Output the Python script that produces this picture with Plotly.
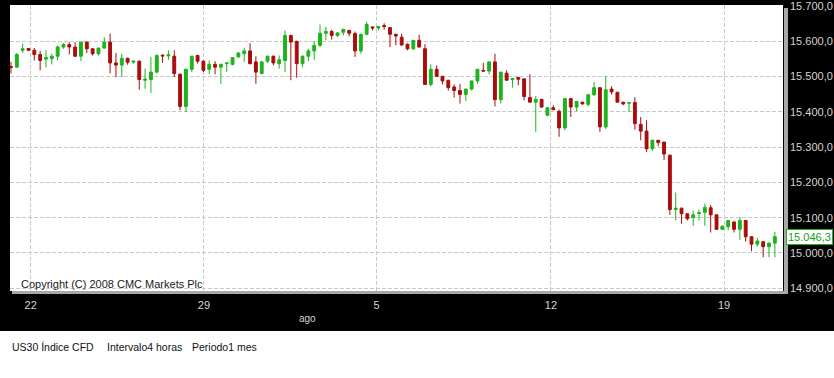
import plotly.graph_objects as go

# ---- data (4-hour bars, US30) ----
opens = [15528, 15526, 15574, 15579, 15574, 15562, 15549, 15550, 15557, 15583,
         15590, 15583, 15557, 15597, 15578, 15564, 15580, 15597, 15538, 15532,
         15551, 15540, 15543, 15489, 15491, 15512, 15560, 15558, 15557, 15506,
         15415, 15520, 15559, 15543, 15520, 15534, 15526, 15536, 15534, 15555,
         15564, 15572, 15541, 15508, 15543, 15557, 15536, 15545, 15616, 15599,
         15536, 15557, 15572, 15588, 15622, 15627, 15616, 15625, 15630, 15621,
         15572, 15619, 15640, 15637, 15644, 15638, 15619, 15611, 15591, 15578,
         15602, 15578, 15477, 15520, 15500, 15489, 15470, 15460, 15449, 15464,
         15487, 15517, 15515, 15541, 15434, 15509, 15491, 15497, 15493, 15440,
         15427, 15435, 15390, 15411, 15401, 15354, 15437, 15413, 15427, 15421,
         15448, 15468, 15357, 15464, 15455, 15427, 15424, 15426, 15364, 15345,
         15295, 15319, 15314, 15277, 15123, 15127, 15111, 15100, 15112, 15115,
         15128, 15108, 15067, 15074, 15088, 15067, 15092, 15046, 15025, 15032,
         15018, 15028]
highs = [15541, 15566, 15592, 15580, 15580, 15572, 15574, 15564, 15588, 15594,
         15597, 15597, 15598, 15599, 15580, 15581, 15611, 15621, 15566, 15564,
         15553, 15545, 15545, 15522, 15555, 15562, 15562, 15574, 15574, 15508,
         15522, 15558, 15561, 15545, 15545, 15543, 15536, 15540, 15555, 15569,
         15581, 15594, 15557, 15543, 15559, 15559, 15559, 15630, 15618, 15601,
         15559, 15578, 15600, 15647, 15640, 15632, 15625, 15635, 15632, 15627,
         15621, 15654, 15641, 15643, 15650, 15640, 15621, 15621, 15593, 15603,
         15618, 15591, 15534, 15531, 15502, 15490, 15477, 15479, 15465, 15488,
         15521, 15538, 15542, 15564, 15513, 15517, 15495, 15498, 15494, 15506,
         15444, 15436, 15413, 15418, 15406, 15438, 15439, 15430, 15428, 15449,
         15484, 15469, 15500, 15472, 15456, 15428, 15427, 15441, 15385, 15376,
         15321, 15320, 15315, 15278, 15171, 15128, 15112, 15120, 15122, 15140,
         15136, 15109, 15077, 15093, 15089, 15101, 15093, 15047, 15043, 15033,
         15029, 15060]
lows = [15508, 15525, 15566, 15572, 15545, 15517, 15526, 15534, 15545, 15578,
        15562, 15555, 15543, 15566, 15559, 15559, 15578, 15509, 15498, 15498,
        15533, 15536, 15462, 15465, 15453, 15508, 15538, 15547, 15498, 15404,
        15399, 15512, 15536, 15512, 15506, 15506, 15479, 15512, 15531, 15553,
        15541, 15534, 15479, 15506, 15538, 15531, 15522, 15512, 15489, 15496,
        15526, 15543, 15547, 15583, 15602, 15604, 15611, 15616, 15613, 15555,
        15564, 15616, 15630, 15630, 15632, 15583, 15588, 15586, 15574, 15574,
        15582, 15476, 15472, 15499, 15477, 15460, 15440, 15423, 15430, 15460,
        15479, 15514, 15506, 15415, 15423, 15488, 15468, 15475, 15432, 15426,
        15343, 15412, 15387, 15404, 15329, 15347, 15385, 15401, 15420, 15415,
        15445, 15343, 15351, 15449, 15426, 15418, 15399, 15349, 15319, 15286,
        15289, 15302, 15263, 15108, 15092, 15083, 15092, 15077, 15092, 15077,
        15058, 15065, 15066, 15065, 15058, 15037, 15032, 15005, 15018, 14988,
        14988, 14988]
closes = [15525, 15562, 15578, 15574, 15562, 15545, 15553, 15557, 15583, 15590,
          15583, 15557, 15597, 15578, 15564, 15580, 15597, 15538, 15532, 15551,
          15540, 15543, 15491, 15492, 15512, 15559, 15558, 15561, 15508, 15415,
          15520, 15557, 15543, 15517, 15534, 15526, 15534, 15538, 15553, 15566,
          15572, 15536, 15512, 15541, 15557, 15538, 15547, 15616, 15597, 15536,
          15557, 15572, 15588, 15622, 15627, 15616, 15623, 15633, 15622, 15572,
          15619, 15647, 15637, 15641, 15641, 15619, 15614, 15589, 15578, 15602,
          15583, 15477, 15520, 15500, 15487, 15468, 15460, 15449, 15464, 15487,
          15520, 15515, 15541, 15434, 15512, 15489, 15494, 15492, 15443, 15427,
          15435, 15413, 15411, 15406, 15354, 15437, 15413, 15429, 15422, 15448,
          15468, 15357, 15462, 15456, 15427, 15422, 15426, 15366, 15345, 15295,
          15319, 15313, 15280, 15123, 15127, 15111, 15097, 15108, 15114, 15129,
          15108, 15067, 15076, 15092, 15067, 15092, 15046, 15025, 15034, 15018,
          15028, 15046.3]
bar_index = list(range(len(opens)))

# x tick positions (bar index where each week label falls) and labels
x_tick_pos = [3.38, 33.1, 62.7, 92.6, 122.3]
x_tick_labels = ["22", "29", "5", "12", "19"]

y_tick_vals = [14900, 15000, 15100, 15200, 15300, 15400, 15500, 15600, 15700]
y_tick_labels = ["14.900,0", "15.000,0", "15.100,0", "15.200,0", "15.300,0",
                 "15.400,0", "15.500,0", "15.600,0", "15.700,0"]

last_label = "15.046,3"

GREEN = "#1db31d"
RED = "#a80d0d"
GRID = "#c8c8c8"
LABEL = "#d4d4d4"
FONT = "Liberation Sans, Arial, sans-serif"

fig = go.Figure(go.Candlestick(
    x=bar_index, open=opens, high=highs, low=lows, close=closes,
    increasing=dict(line=dict(color=GREEN, width=1), fillcolor=GREEN),
    decreasing=dict(line=dict(color=RED, width=1), fillcolor=RED),
    whiskerwidth=0, hoverinfo="skip", showlegend=False,
))

W, H = 834, 378
L, R, T, B = 10, 51, 5, 87
pw, ph = W - L - R, H - T - B


def px_x(p):
    return (p - L) / pw


def px_y(p):
    return (H - B - p) / ph


fig.update_layout(
    width=W, height=H,
    margin=dict(l=L, r=R, t=T, b=B, pad=0, autoexpand=False),
    paper_bgcolor="black", plot_bgcolor="white",
    hovermode=False, showlegend=False,
    font=dict(family=FONT, size=11, color=LABEL),
    xaxis=dict(
        range=[-0.17, 132.4], rangeslider=dict(visible=False),
        tickmode="array", tickvals=x_tick_pos, ticktext=x_tick_labels,
        showgrid=True, gridcolor=GRID, griddash="4px,2px", gridwidth=1,
        zeroline=False, showline=False, ticks="", ticklabelstandoff=6,
        ticklabeloverflow="allow",
        tickfont=dict(color=LABEL, size=11, family=FONT),
        fixedrange=True, automargin=False,
    ),
    yaxis=dict(
        range=[14892.4, 15702], side="right",
        tickmode="array", tickvals=y_tick_vals, ticktext=y_tick_labels,
        showgrid=True, gridcolor=GRID, griddash="4px,2px", gridwidth=1,
        zeroline=False, showline=False, ticks="", ticklabelstandoff=6,
        ticklabeloverflow="allow",
        tickfont=dict(color=LABEL, size=11, family=FONT),
        fixedrange=True, automargin=False,
    ),
    shapes=[
        # white band at the bottom of the page
        dict(type="rect", xref="paper", yref="paper", x0=px_x(-10), x1=px_x(W + 10),
             y0=px_y(H + 10), y1=px_y(331), fillcolor="white", line=dict(width=0), layer="below"),
        # grey shadow right of plot
        dict(type="rect", xref="paper", yref="paper", x0=px_x(784), x1=px_x(788),
             y0=px_y(294), y1=px_y(8), fillcolor="#a8a8a8", line=dict(width=0), layer="above"),
        # grey shadow below plot
        dict(type="rect", xref="paper", yref="paper", x0=px_x(12), x1=px_x(788),
             y0=px_y(294), y1=px_y(291), fillcolor="#a8a8a8", line=dict(width=0), layer="above"),
    ],
    annotations=[
        dict(text="Copyright (C) 2008 CMC Markets Plc", xref="paper", yref="paper",
             x=px_x(19), y=px_y(284), xanchor="left", yanchor="middle", showarrow=False,
             font=dict(family=FONT, size=11, color="#1a1a1a")),
        dict(text="ago", xref="paper", yref="paper", x=px_x(307), y=px_y(318),
             xanchor="center", yanchor="middle", showarrow=False,
             font=dict(family=FONT, size=10, color=LABEL)),
        dict(text=last_label, xref="paper", yref="y", x=px_x(786), y=closes[-1],
             xanchor="left", yanchor="middle", showarrow=False,
             bgcolor="white", bordercolor=GREEN, borderwidth=1, borderpad=1,
             font=dict(family=FONT, size=11, color="#18a018")),
        dict(text="US30 Índice CFD", xref="paper", yref="paper", x=px_x(10), y=px_y(347),
             xanchor="left", yanchor="middle", showarrow=False,
             font=dict(family=FONT, size=10.5, color="#111111")),
        dict(text="Intervalo4 horas", xref="paper", yref="paper", x=px_x(105), y=px_y(347),
             xanchor="left", yanchor="middle", showarrow=False,
             font=dict(family=FONT, size=10.5, color="#111111")),
        dict(text="Periodo1 mes", xref="paper", yref="paper", x=px_x(190), y=px_y(347),
             xanchor="left", yanchor="middle", showarrow=False,
             font=dict(family=FONT, size=10.5, color="#111111")),
    ],
)

fig.write_html("out.html", config={"displayModeBar": False, "staticPlot": True},
               post_script="document.body.style.margin='0px';document.body.style.padding='0px';")
